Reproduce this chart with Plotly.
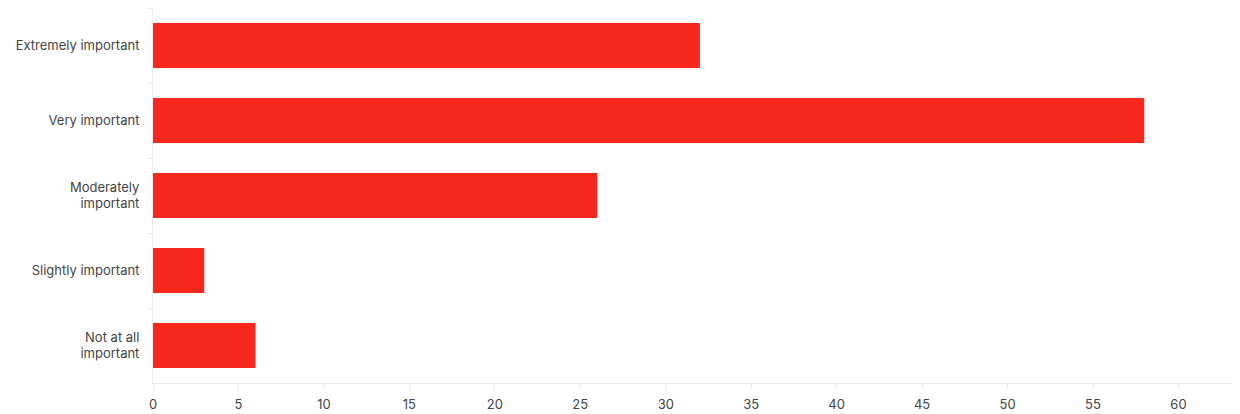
import plotly.graph_objects as go

categories = ["Extremely important", "Very important", "Moderately<br>important",
              "Slightly important", "Not at all<br>important"]
values = [32, 58, 26, 3, 6]
tick_values = [0, 5, 10, 15, 20, 25, 30, 35, 40, 45, 50, 55, 60]

fig = go.Figure(go.Bar(
    x=values, y=categories, orientation="h",
    marker=dict(color="#F8281C", line=dict(width=0)),
    width=0.6,
))

fig.update_layout(
    width=1240, height=414,
    margin=dict(l=145, r=8, t=0, b=39),
    paper_bgcolor="white", plot_bgcolor="white",
    font=dict(family="Inter, Roboto, sans-serif", size=12, color="#444444"),
    showlegend=False,
    bargap=0.4,
)
fig.update_xaxes(
    range=[0, 63.6], tickvals=tick_values, showgrid=False, zeroline=False,
    showline=True, linecolor="#ececec", linewidth=1,
    ticks="outside", ticklen=5, tickcolor="#e6e6e6",
    ticklabelstandoff=4,
    tickfont=dict(size=13, color="#444444"),
    automargin=False,
)
fig.update_yaxes(
    categoryorder="array", categoryarray=categories, autorange="reversed",
    showgrid=False, zeroline=False,
    showline=True, linecolor="#ececec", linewidth=1,
    ticks="outside", tickson="boundaries", ticklen=4, tickcolor="#e6e6e6",
    ticklabelstandoff=10,
    tickfont=dict(size=13, color="#444444"),
    automargin=False,
)

fig.write_html("out.html")
